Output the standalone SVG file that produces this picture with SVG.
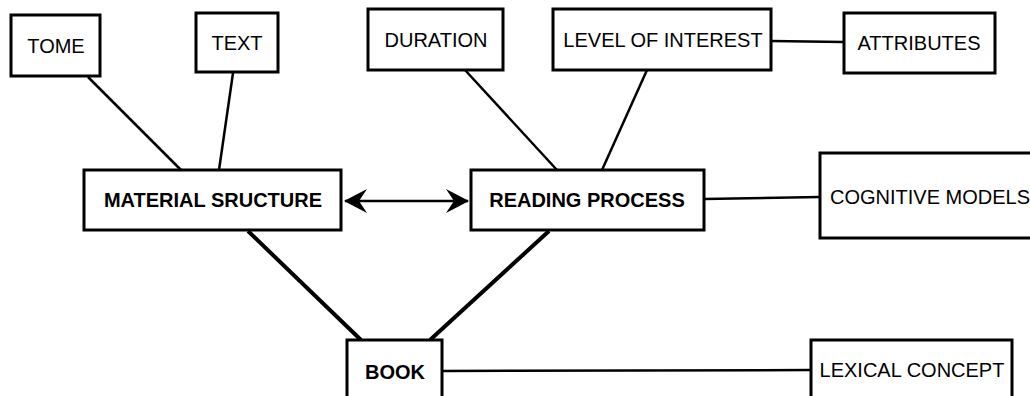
<svg xmlns="http://www.w3.org/2000/svg" width="1030" height="396" viewBox="0 0 1030 396">
<style>
.box{fill:#fff;stroke:#000;stroke-width:3}
.t{font-family:"Liberation Sans",Arial,sans-serif;font-size:20px;fill:#000;text-anchor:middle;dominant-baseline:central}
.b{font-weight:bold}
.c{stroke:#000;stroke-width:2.5;fill:none}
.k{stroke:#000;stroke-width:4;fill:none}
</style>
<defs>
<marker id="ah" viewBox="0 0 23 24" refX="22" refY="12" markerWidth="23" markerHeight="24" markerUnits="userSpaceOnUse" orient="auto-start-reverse">
<path d="M0,0 L23,12 L0,24 L8,12 Z" fill="#000"/>
</marker>
</defs>
<rect width="1030" height="396" fill="#fff"/>
<g id="connectors">
<line class="c" x1="88" y1="77" x2="181" y2="170"/>
<line class="c" x1="233" y1="73" x2="219" y2="170"/>
<line class="c" x1="465" y1="70" x2="557" y2="170"/>
<line class="c" x1="647" y1="70" x2="602" y2="170"/>
<line class="c" x1="771" y1="41" x2="844" y2="42"/>
<line class="c" x1="704" y1="199" x2="820" y2="197"/>
<line class="c" x1="345" y1="201" x2="468" y2="201" stroke-width="3" marker-start="url(#ah)" marker-end="url(#ah)"/>
<line class="k" x1="248" y1="231" x2="361" y2="340"/>
<line class="k" x1="549" y1="231" x2="430" y2="340"/>
<line class="c" x1="442" y1="371" x2="811" y2="370"/>
</g>
<g id="tome"><rect class="box" x="11" y="15" width="89" height="61"/><text class="t" x="56" y="46">TOME</text></g>
<g id="text"><rect class="box" x="196" y="13" width="82" height="59"/><text class="t" x="237" y="43">TEXT</text></g>
<g id="duration"><rect class="box" x="368" y="9" width="135" height="61"/><text class="t" x="436" y="40">DURATION</text></g>
<g id="level"><rect class="box" x="553" y="9" width="218" height="61"/><text class="t" x="663" y="40">LEVEL OF INTEREST</text></g>
<g id="attributes"><rect class="box" x="844" y="13" width="151" height="60"/><text class="t" x="919" y="43">ATTRIBUTES</text></g>
<g id="material"><rect class="box" x="84" y="170" width="257" height="60"/><text class="t b" x="213" y="200">MATERIAL SRUCTURE</text></g>
<g id="reading"><rect class="box" x="471" y="170" width="233" height="60"/><text class="t b" x="587" y="200">READING PROCESS</text></g>
<g id="cognitive"><rect class="box" x="820" y="153" width="220" height="85"/><text class="t" x="930" y="197">COGNITIVE MODELS</text></g>
<g id="book"><rect class="box" x="347" y="340" width="95" height="70"/><text class="t b" x="395" y="372">BOOK</text></g>
<g id="lexical"><rect class="box" x="811" y="340" width="201" height="70"/><text class="t" x="912" y="370">LEXICAL CONCEPT</text></g>
</svg>
